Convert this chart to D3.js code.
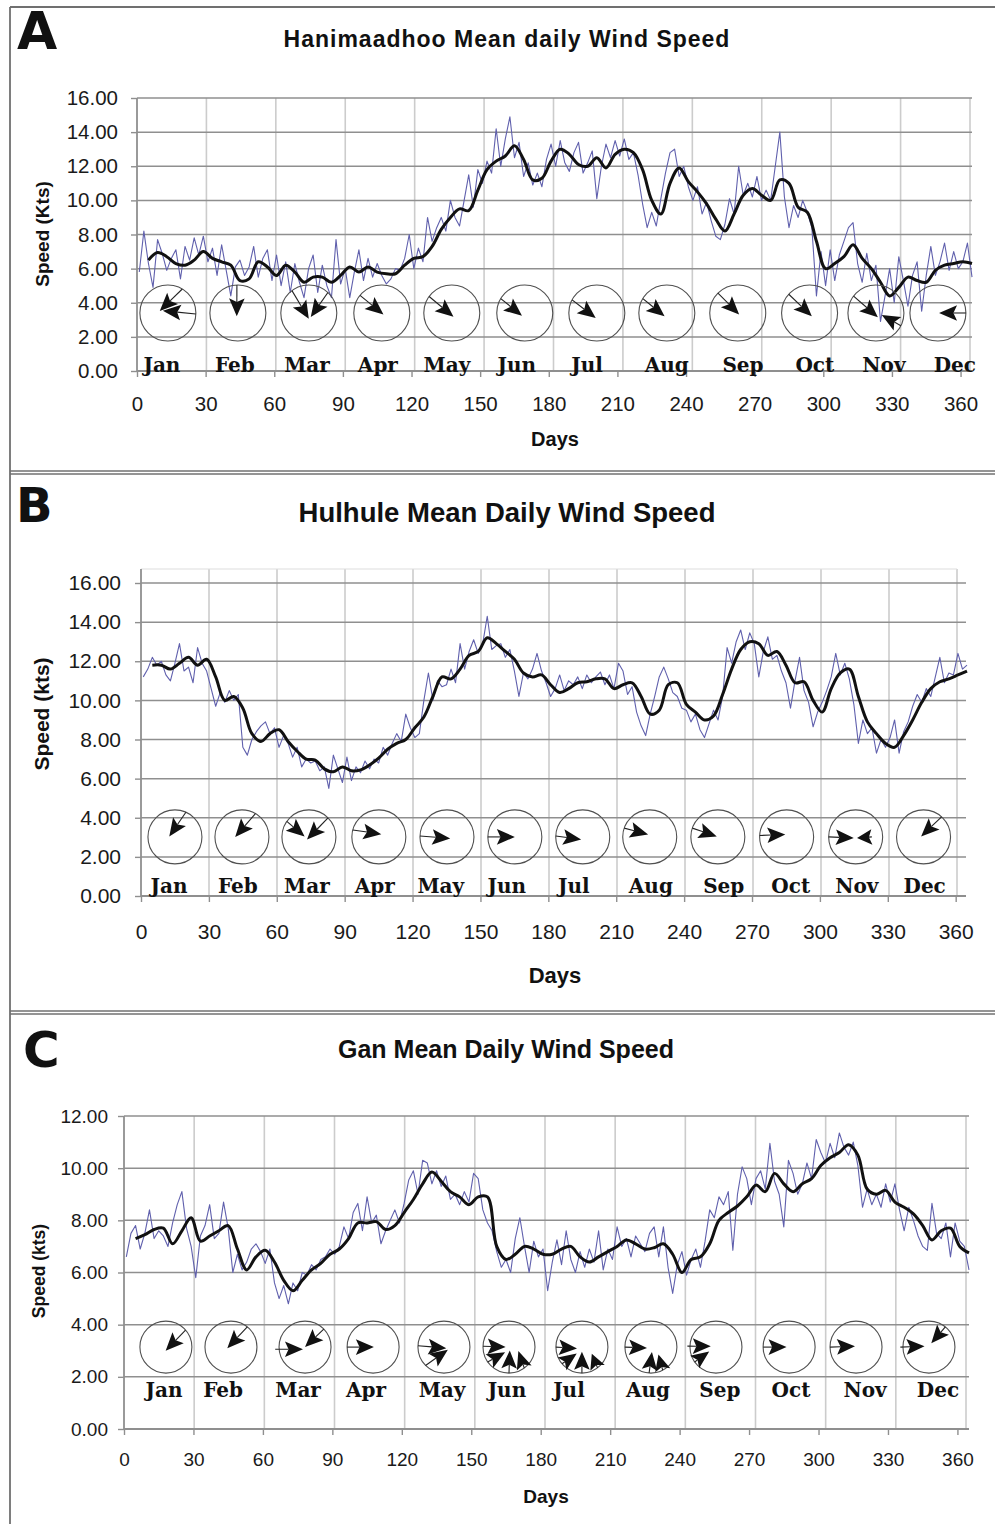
<!DOCTYPE html>
<html>
<head>
<meta charset="utf-8">
<script src="https://cdn.jsdelivr.net/npm/d3@7"></script>
<style>
  body { margin: 0; background: #ffffff; }
  svg { display: block; }
</style>
</head>
<body>
<svg id="fig" width="995" height="1524"></svg>
<script>
// ---------------------------------------------------------------
// Shared axis values
// ---------------------------------------------------------------
const months = ["Jan", "Feb", "Mar", "Apr", "May", "Jun", "Jul", "Aug", "Sep", "Oct", "Nov", "Dec"];
const xTicks = [0, 30, 60, 90, 120, 150, 180, 210, 240, 270, 300, 330, 360];
const yTicks16 = [0, 2, 4, 6, 8, 10, 12, 14, 16];
const yTicks12 = [0, 2, 4, 6, 8, 10, 12];

// daily values are listed for every second day, smoothed values every fourth day
const dailyDays = d3.range(1, 366, 2);
const smoothDays = d3.range(5, 366, 4);

// ---------------------------------------------------------------
// Hanimaadhoo
// ---------------------------------------------------------------
const hanimaadhooDaily = [
  5.8, 8.2, 6.3, 4.9, 7.7, 6.9, 5.9, 6.6, 7.1, 5.4, 7.3, 6.5, 7.8, 6.8, 7.9,
  6.4, 7.2, 5.6, 7.4, 5.9, 4.4, 6.1, 6.5, 5.6, 6.1, 7.3, 5.5, 6.6, 7.1, 5.3,
  6.8, 5.0, 6.4, 4.6, 6.3, 5.2, 4.3, 6.0, 6.8, 4.6, 6.2, 5.0, 4.3, 7.7, 5.1,
  6.0, 4.3, 5.8, 7.1, 5.3, 6.6, 5.5, 6.3, 5.6, 5.1, 5.4, 6.0, 5.9, 6.6, 8.0,
  6.0, 7.2, 6.4, 9.0, 7.6, 8.4, 9.0, 8.2, 10.0, 9.0, 8.5, 10.0, 11.5, 9.6, 11.8,
  11.0, 12.3, 11.6, 14.2, 12.0, 13.6, 14.9, 12.5, 13.4, 11.4, 12.2, 10.9, 11.6, 10.8, 12.4,
  13.3, 12.0, 13.5, 12.2, 11.7, 12.8, 13.4, 11.6, 12.2, 12.9, 10.1, 12.0, 13.3, 12.5, 13.5,
  12.6, 13.6, 12.4, 12.8, 11.5, 9.8, 8.4, 9.3, 8.5, 10.1, 11.6, 12.8, 13.0, 11.4, 12.0,
  10.8, 10.0, 10.8, 9.2, 9.9, 8.8, 7.9, 7.7, 8.6, 10.1, 9.2, 12.0, 10.3, 11.0, 10.2,
  11.4, 10.0, 10.6, 10.0, 12.0, 14.0, 10.2, 8.4, 9.7, 9.0, 10.0, 9.3, 8.4, 4.4, 7.0,
  5.0, 7.1, 5.3, 6.8, 7.6, 8.4, 8.7, 6.3, 5.2, 6.9, 5.3, 6.2, 2.9, 4.4, 6.0,
  4.0, 6.7, 5.3, 3.8, 5.6, 6.4, 3.5, 5.6, 7.3, 5.6, 6.4, 7.5, 5.9, 7.0, 6.0, 6.4, 7.5, 5.5
];
const hanimaadhooSmooth = [
  6.5, 6.95, 6.7, 6.3, 6.2, 6.5, 7.0, 6.6, 6.4, 6.2, 5.3, 5.4, 6.4, 6.1, 5.6, 6.2,
  5.8, 5.2, 5.5, 5.5, 5.2, 5.6, 6.1, 5.8, 6.1, 5.8, 5.7, 5.7, 6.2, 6.6, 6.7, 7.3,
  8.3, 9.0, 9.5, 9.4, 10.6, 11.8, 12.3, 12.6, 13.2, 12.4, 11.2, 11.3, 12.3, 13.0,
  12.7, 12.1, 12.0, 12.5, 11.9, 12.7, 13.0, 12.8, 11.8, 10.0, 9.2, 11.0, 11.9, 11.1,
  10.5, 9.8, 8.9, 8.2, 9.2, 10.3, 10.7, 10.3, 10.0, 11.2, 11.0, 9.6, 9.3, 7.6, 6.0,
  6.3, 6.7, 7.4, 6.6, 6.0, 5.2, 4.4, 4.9, 5.5, 5.3, 5.2, 5.9, 6.2, 6.3, 6.4, 6.3
];
// wind-rose placement (day on the x axis) and month label positions
const hanimaadhooRoseDays = [13.5, 44.1, 75.1, 107, 137.6, 169.5, 201, 231.6, 262.6, 294, 323, 350.1];
const hanimaadhooLabelDays = [10.9, 42.8, 74.3, 105.3, 135.5, 166, 196.7, 231.6, 264.9, 296.3, 326.5, 357.5];
// prevailing winds per month: [bearing wind comes from, tip x, tip y (in radii), tail radius]
const hanimaadhooWinds = [
  [[31, -0.29, -0.07], [92, -0.18, -0.08]],
  [[358, -0.04, 0.12]],
  [[323, 0, 0.21], [43, 0.07, 0.14]],
  [[309, 0.06, 0.05]],
  [[306, 0.06, 0.13]],
  [[301, -0.1, 0.1]],
  [[298, -0.04, 0.18]],
  [[301, -0.08, 0.12]],
  [[315, 0.05, 0.05]],
  [[312, 0.08, 0.12]],
  [[307, 0.07, 0.15], [117, 0.21, 0.07]],
  [[90, 0.04, 0]]
];

// ---------------------------------------------------------------
// Hulhule
// ---------------------------------------------------------------
const hulhuleDaily = [
  11.2, 11.6, 12.2, 11.8, 12.0, 11.3, 11.0, 11.9, 12.9, 11.5, 11.7, 10.9, 12.7, 11.9, 11.5,
  10.6, 9.7, 10.4, 9.9, 10.5, 10.0, 10.3, 7.6, 7.2, 8.0, 8.4, 8.7, 8.9, 8.3, 8.6,
  7.6, 8.2, 7.8, 7.1, 7.6, 6.6, 7.0, 6.8, 6.9, 6.4, 6.6, 5.5, 7.2, 6.5, 5.8,
  7.1, 5.9, 6.6, 6.3, 6.9, 6.5, 7.0, 6.8, 7.6, 7.2, 7.8, 8.3, 7.9, 9.3, 8.6,
  8.1, 8.3, 10.0, 11.4, 10.0, 11.0, 10.7, 10.8, 11.6, 10.9, 12.9, 11.6, 12.5, 13.1, 12.4,
  12.9, 14.3, 12.6, 12.8, 12.9, 12.2, 12.6, 11.5, 10.2, 11.4, 11.1, 11.6, 12.4, 11.5, 10.9,
  10.2, 10.6, 11.3, 10.5, 11.0, 10.8, 11.2, 10.6, 11.3, 10.9, 11.2, 11.45, 10.8, 11.3, 10.6,
  11.9, 11.5, 10.3, 10.7, 9.4, 8.7, 8.2, 9.3, 10.2, 11.2, 11.7, 11.1, 10.4, 10.2, 9.6,
  9.5, 8.9, 9.3, 8.5, 8.1, 8.8, 9.5, 9.0, 10.2, 12.7, 11.9, 13.0, 13.6, 12.6, 13.45,
  12.9, 11.2, 12.5, 13.25, 12.1, 12.3, 11.5, 10.9, 9.6, 11.0, 12.2, 10.5, 9.9, 8.65, 9.4,
  9.9, 10.5, 11.2, 12.4, 11.3, 11.9, 11.1, 9.8, 7.8, 9.0, 8.3, 8.6, 7.3, 8.0, 7.6,
  8.1, 9.0, 7.3, 8.4, 8.9, 9.7, 10.3, 9.9, 10.6, 10.2, 11.2, 12.2, 10.9, 11.4, 11.3, 12.4, 11.6, 11.8
];
const hulhuleSmooth = [
  11.8, 11.8, 11.6, 11.9, 12.2, 11.8, 12.1, 11.2, 10.0, 10.2, 9.6, 8.3, 7.9, 8.3, 8.5, 7.9,
  7.4, 7.0, 6.95, 6.5, 6.35, 6.6, 6.4, 6.45, 6.7, 7.05, 7.5, 7.8, 8.0, 8.6, 9.15, 10.2,
  11.2, 11.1, 11.6, 12.3, 12.5, 13.2, 12.9, 12.5, 12.1, 11.4, 11.2, 11.3, 10.8, 10.4,
  10.6, 10.9, 10.95, 11.1, 11.1, 10.6, 10.8, 10.9, 10.2, 9.3, 9.5, 10.8, 10.9, 9.8,
  9.4, 9.0, 9.2, 10.3, 11.6, 12.6, 13.0, 12.9, 12.3, 12.5, 11.8, 10.9, 10.95, 10.0, 9.4,
  10.6, 11.4, 11.6, 10.2, 8.9, 8.3, 7.8, 7.6, 8.2, 9.0, 9.9, 10.6, 10.95, 11.1, 11.3, 11.5
];
const hulhuleRoseDays = [15.0, 44.6, 74.2, 105.1, 135.2, 165.2, 195.2, 224.8, 254.9, 285.3, 315.8, 345.8];
const hulhuleLabelDays = [12.4, 42.8, 73.3, 103.3, 132.5, 161.6, 191.3, 225.3, 257.5, 287.1, 316.3, 346.3];
const hulhuleWinds = [
  [[24, -0.21, -0.02]],
  [[30, -0.25, 0]],
  [[305, -0.16, -0.02], [45, -0.07, 0.1]],
  [[285, 0.09, -0.1]],
  [[272, 0.12, 0.06]],
  [[270, 0, 0]],
  [[272, -0.06, 0.1]],
  [[289, -0.06, -0.09]],
  [[289, -0.04, -0.02]],
  [[273, -0.05, -0.09]],
  [[270, -0.07, 0.04], [90, 0.05, 0.04, 0.6]],
  [[42, -0.09, -0.02]]
];

// ---------------------------------------------------------------
// Gan
// ---------------------------------------------------------------
const ganDaily = [
  6.6, 7.5, 7.8, 6.9, 7.5, 8.4, 7.3, 7.6, 7.4, 7.0, 7.9, 8.6, 9.1, 7.7, 7.0,
  5.8, 7.4, 7.8, 8.6, 7.3, 7.5, 8.7, 7.7, 6.0, 6.7, 6.1, 6.4, 6.9, 7.1, 6.8,
  6.35, 6.9, 5.6, 5.0, 5.5, 4.8, 5.6, 5.3, 6.0, 5.9, 6.3, 6.1, 6.5, 6.6, 6.9,
  6.7, 7.0, 7.75, 7.3, 8.3, 8.65, 7.6, 8.9, 7.9, 8.2, 7.1, 7.6, 8.0, 8.4, 7.9,
  8.65, 9.55, 9.9, 9.0, 10.3, 10.2, 9.4, 9.9, 9.3, 9.7, 8.8, 9.0, 8.6, 9.1, 8.7,
  9.8, 9.6, 8.4, 7.9, 7.6, 6.8, 6.2, 6.5, 6.0, 7.3, 8.1, 7.0, 6.0, 7.2, 6.6,
  6.9, 5.3, 6.4, 7.25, 6.3, 7.6, 6.5, 6.0, 6.8, 6.2, 6.9, 6.4, 7.6, 6.1, 6.9,
  6.5, 7.75, 7.0, 7.3, 6.6, 7.4, 7.1, 6.8, 7.5, 7.75, 6.6, 7.75, 6.2, 5.2, 6.3,
  6.8, 5.9, 6.5, 6.9, 6.2, 7.2, 8.4, 8.1, 8.9, 8.6, 9.1, 6.85, 9.0, 10.05, 9.6,
  8.6, 9.6, 9.9, 9.2, 10.95, 9.5, 9.0, 7.75, 10.3, 9.8, 9.0, 9.4, 10.2, 9.6, 11.1,
  10.6, 10.2, 10.95, 10.4, 11.35, 10.8, 10.5, 11.0, 10.1, 8.5, 9.2, 8.6, 9.0, 8.5, 9.4,
  8.7, 9.4, 8.4, 7.6, 8.5, 8.0, 7.4, 7.0, 6.85, 8.65, 7.5, 7.3, 7.9, 6.6, 7.9, 7.2, 7.0, 6.1
];
const ganSmooth = [
  7.3, 7.45, 7.65, 7.7, 7.1, 7.6, 8.1, 7.2, 7.4, 7.6, 7.8, 6.9, 6.1, 6.6, 6.85, 6.4,
  5.7, 5.3, 5.7, 6.1, 6.35, 6.7, 6.9, 7.3, 7.9, 7.9, 7.95, 7.65, 7.8, 8.3, 8.8, 9.4,
  9.85, 9.5, 9.1, 8.9, 8.6, 8.9, 8.9, 7.0, 6.5, 6.7, 7.0, 6.9, 6.7, 6.7, 6.9, 7.0,
  6.6, 6.4, 6.6, 6.8, 7.0, 7.25, 7.1, 6.9, 6.95, 7.1, 6.7, 6.0, 6.5, 6.6, 7.1, 8.0,
  8.3, 8.55, 8.9, 9.35, 9.1, 9.8, 9.4, 9.1, 9.4, 9.6, 10.1, 10.4, 10.6, 10.9, 10.5,
  9.2, 9.0, 9.15, 8.7, 8.5, 8.25, 7.8, 7.25, 7.6, 7.7, 7.0, 6.75
];
const ganRoseDays = [18.1, 46.2, 78.2, 107.6, 138.2, 166.3, 197.8, 227.6, 255.7, 287.3, 316.2, 347.7];
const ganLabelDays = [17.3, 42.8, 75.2, 104.5, 137.4, 165.4, 192.2, 226.3, 257.4, 288.1, 320.1, 351.6];
const ganWinds = [
  [[49, -0.01, 0.14]],
  [[39, -0.14, 0.04]],
  [[266, -0.08, 0.08, 1.15], [46, 0, 0]],
  [[270, 0.03, 0]],
  [[273, 0.09, 0.04], [225, 0.15, 0.1]],
  [[272, -0.13, 0], [235, -0.15, 0.2], [180, 0.03, 0.13], [144, 0.36, 0.15]],
  [[270, -0.19, 0.05], [230, -0.2, 0.25], [180, 0, 0.18], [143, 0.38, 0.26]],
  [[270, -0.15, 0.03], [184, 0.04, 0.19], [153, 0.29, 0.28]],
  [[272, -0.2, -0.03, 1.1], [235, -0.26, 0.17]],
  [[270, -0.1, 0]],
  [[270, -0.04, -0.03]],
  [[270, -0.17, -0.03, 1.1], [39, 0.09, -0.15]]
];

// ---------------------------------------------------------------
// Layout of the three panels
// ---------------------------------------------------------------
const SANS = "'Liberation Sans', Arial, Helvetica, sans-serif";
const HEAVY = "'DejaVu Sans', Verdana, sans-serif";
const SERIF = "'DejaVu Serif', 'Liberation Serif', serif";

const panels = [
  {
    letter: "A", letterX: 17, letterY: 49, letterSize: 52,
    title: "Hanimaadhoo Mean daily Wind Speed", titleX: 507, titleY: 47, titleSize: 23, titleSpacing: 1.0,
    yLabel: "Speed (Kts)", yLabelX: 42, yLabelY: 234, yLabelSize: 19,
    xLabelX: 555, xLabelY: 446, xLabelSize: 20,
    left: 137, right: 972, hRight: 972, gridRight: 970, top: 98, frameTop: 98, bottom: 371,
    yMax: 16, yTicks: yTicks16, tickSize: 20.5, xPad: 19, yPad: 13,
    daily: hanimaadhooDaily, smooth: hanimaadhooSmooth,
    roseDays: hanimaadhooRoseDays, labelDays: hanimaadhooLabelDays, winds: hanimaadhooWinds,
    roseLevel: 3.4, roseR: 28, labelY: 372
  },
  {
    letter: "B", letterX: 16, letterY: 522, letterSize: 48,
    title: "Hulhule Mean Daily Wind Speed", titleX: 507, titleY: 522, titleSize: 27.5, titleSpacing: 0,
    yLabel: "Speed (kts)", yLabelX: 41, yLabelY: 714, yLabelSize: 21,
    xLabelX: 555, xLabelY: 983, xLabelSize: 22,
    left: 141, right: 967, hRight: 966, gridRight: 957, top: 583, frameTop: 569, bottom: 896,
    yMax: 16, yTicks: yTicks16, tickSize: 21, xPad: 22, yPad: 14,
    daily: hulhuleDaily, smooth: hulhuleSmooth,
    roseDays: hulhuleRoseDays, labelDays: hulhuleLabelDays, winds: hulhuleWinds,
    roseLevel: 3.02, roseR: 27, labelY: 893
  },
  {
    letter: "C", letterX: 23, letterY: 1067, letterSize: 50,
    title: "Gan Mean Daily Wind Speed", titleX: 506, titleY: 1058, titleSize: 25, titleSpacing: 0,
    yLabel: "Speed (kts)", yLabelX: 39, yLabelY: 1271, yLabelSize: 17.5,
    xLabelX: 546, xLabelY: 1503, xLabelSize: 19,
    left: 124, right: 969, hRight: 969, gridRight: 966, top: 1116, frameTop: 1116, bottom: 1429,
    yMax: 12, yTicks: yTicks12, tickSize: 19, xPad: 18, yPad: 10,
    daily: ganDaily, smooth: ganSmooth,
    roseDays: ganRoseDays, labelDays: ganLabelDays, winds: ganWinds,
    roseLevel: 3.14, roseR: 26, labelY: 1397
  }
];

const svg = d3.select("#fig");
svg.append("rect").attr("width", 995).attr("height", 1524).attr("fill", "#ffffff");

// panel frames: outer left/top edge and double separators between panels
const frame = svg.append("g").attr("stroke", "#707070").attr("fill", "none");
frame.append("line").attr("x1", 10).attr("x2", 10).attr("y1", 7).attr("y2", 1524).attr("stroke-width", 1.8);
frame.append("line").attr("x1", 10).attr("x2", 995).attr("y1", 7).attr("y2", 7).attr("stroke-width", 1.8);
[[471, 474], [1011, 1014]].forEach(pair => {
  pair.forEach(yy => {
    frame.append("line").attr("x1", 10).attr("x2", 995).attr("y1", yy).attr("y2", yy).attr("stroke-width", 1.4);
  });
});

function drawWindRose(g, cx, cy, R, arrows) {
  g.append("circle").attr("cx", cx).attr("cy", cy).attr("r", R)
    .attr("fill", "none").attr("stroke", "#505050").attr("stroke-width", 1.1);
  arrows.forEach(a => {
    const [bearing, tx, ty, tr = 1] = a;
    const rad = bearing * Math.PI / 180;
    const x0 = cx + tr * R * Math.sin(rad);
    const y0 = cy - tr * R * Math.cos(rad);
    const x1 = cx + tx * R;
    const y1 = cy + ty * R;
    const len = Math.hypot(x1 - x0, y1 - y0);
    const ux = (x1 - x0) / len, uy = (y1 - y0) / len;
    const nx = -uy, ny = ux;
    const L = Math.min(18, len), W = 7.8;
    const bx = x1 - L * ux, by = y1 - L * uy;
    const mx = x1 - 0.8 * L * ux, my = y1 - 0.8 * L * uy;
    g.append("line").attr("x1", x0).attr("y1", y0).attr("x2", mx).attr("y2", my)
      .attr("stroke", "#222").attr("stroke-width", 1.1);
    g.append("path")
      .attr("d", `M${x1},${y1}L${bx + W * nx},${by + W * ny}L${mx},${my}L${bx - W * nx},${by - W * ny}Z`)
      .attr("fill", "#111");
  });
}

function drawPanel(p) {
  const g = svg.append("g");
  const x = d3.scaleLinear().domain([0, 365]).range([p.left, p.right]);
  const xGrid = d3.scaleLinear().domain([0, 360]).range([p.left, p.gridRight]);
  const y = d3.scaleLinear().domain([0, p.yMax]).range([p.bottom, p.top]);

  // vertical gridlines
  g.append("g").selectAll("line").data(xTicks.filter(d => d > 0)).join("line")
    .attr("x1", d => xGrid(d)).attr("x2", d => xGrid(d))
    .attr("y1", p.frameTop).attr("y2", p.bottom)
    .attr("stroke", "#cccccc").attr("stroke-width", 1.6);
  if (p.frameTop < p.top) {
    g.append("line").attr("x1", p.left).attr("x2", p.gridRight)
      .attr("y1", p.frameTop).attr("y2", p.frameTop)
      .attr("stroke", "#dddddd").attr("stroke-width", 1.2);
  }
  // horizontal gridlines
  g.append("g").selectAll("line").data(p.yTicks.filter(d => d > 0)).join("line")
    .attr("x1", p.left).attr("x2", p.hRight)
    .attr("y1", d => y(d)).attr("y2", d => y(d))
    .attr("stroke", "#8f8f8f").attr("stroke-width", 1.5);

  // axes
  const xAxis = g.append("g").attr("transform", `translate(0,${p.bottom})`)
    .call(d3.axisBottom(x).tickValues(xTicks).tickSize(6).tickSizeOuter(0).tickPadding(p.xPad));
  xAxis.attr("font-family", SANS).attr("font-size", p.tickSize);
  xAxis.select(".domain").attr("d", `M${p.left},0H${p.hRight}`).attr("stroke", "#8f8f8f").attr("stroke-width", 1.8);
  xAxis.selectAll(".tick line").attr("stroke", "#8f8f8f").attr("stroke-width", 1.4);
  xAxis.selectAll(".tick text").attr("fill", "#1a1a1a");

  const yAxis = g.append("g").attr("transform", `translate(${p.left},0)`)
    .call(d3.axisLeft(y).tickValues(p.yTicks).tickFormat(d3.format(".2f")).tickSize(6).tickSizeOuter(0).tickPadding(p.yPad));
  yAxis.attr("font-family", SANS).attr("font-size", p.tickSize);
  yAxis.select(".domain").attr("d", `M0,${p.frameTop}V${p.bottom}`).attr("stroke", "#8f8f8f").attr("stroke-width", 1.8);
  yAxis.selectAll(".tick line").attr("stroke", "#8f8f8f").attr("stroke-width", 1.4);
  yAxis.selectAll(".tick text").attr("fill", "#1a1a1a");

  // daily mean (thin) and smoothed (thick) wind speed
  const dailyLine = d3.line().x((d, i) => x(dailyDays[i])).y(d => y(d));
  g.append("path").datum(p.daily).attr("d", dailyLine)
    .attr("fill", "none").attr("stroke", "#6060ad").attr("stroke-width", 1.1)
    .attr("stroke-linejoin", "round");
  const smoothLine = d3.line().x((d, i) => x(smoothDays[i])).y(d => y(d))
    .curve(d3.curveCatmullRom.alpha(0.5));
  g.append("path").datum(p.smooth).attr("d", smoothLine)
    .attr("fill", "none").attr("stroke", "#111111").attr("stroke-width", 3)
    .attr("stroke-linejoin", "round");

  // monthly wind roses and month labels
  const roses = g.append("g");
  p.roseDays.forEach((d, i) => drawWindRose(roses, x(d), y(p.roseLevel), p.roseR, p.winds[i]));
  g.append("g").selectAll("text").data(months).join("text")
    .attr("x", (m, i) => x(p.labelDays[i])).attr("y", p.labelY)
    .attr("text-anchor", "middle").attr("font-family", SERIF).attr("font-weight", "bold")
    .attr("font-size", 20).attr("fill", "#111").text(m => m);

  // titles and axis labels
  g.append("text").attr("x", p.letterX).attr("y", p.letterY)
    .attr("font-family", HEAVY).attr("font-weight", "bold").attr("font-size", p.letterSize)
    .attr("fill", "#111").text(p.letter);
  g.append("text").attr("x", p.titleX).attr("y", p.titleY).attr("text-anchor", "middle")
    .attr("font-family", SANS).attr("font-weight", "bold").attr("font-size", p.titleSize)
    .attr("letter-spacing", p.titleSpacing).attr("fill", "#111").text(p.title);
  g.append("text")
    .attr("transform", `translate(${p.yLabelX + 0.36 * p.yLabelSize},${p.yLabelY}) rotate(-90)`)
    .attr("text-anchor", "middle").attr("font-family", SANS).attr("font-weight", "bold")
    .attr("font-size", p.yLabelSize).attr("fill", "#111").text(p.yLabel);
  g.append("text").attr("x", p.xLabelX).attr("y", p.xLabelY).attr("text-anchor", "middle")
    .attr("font-family", SANS).attr("font-weight", "bold").attr("font-size", p.xLabelSize)
    .attr("fill", "#111").text("Days");
}

panels.forEach(drawPanel);
</script>
</body>
</html>
